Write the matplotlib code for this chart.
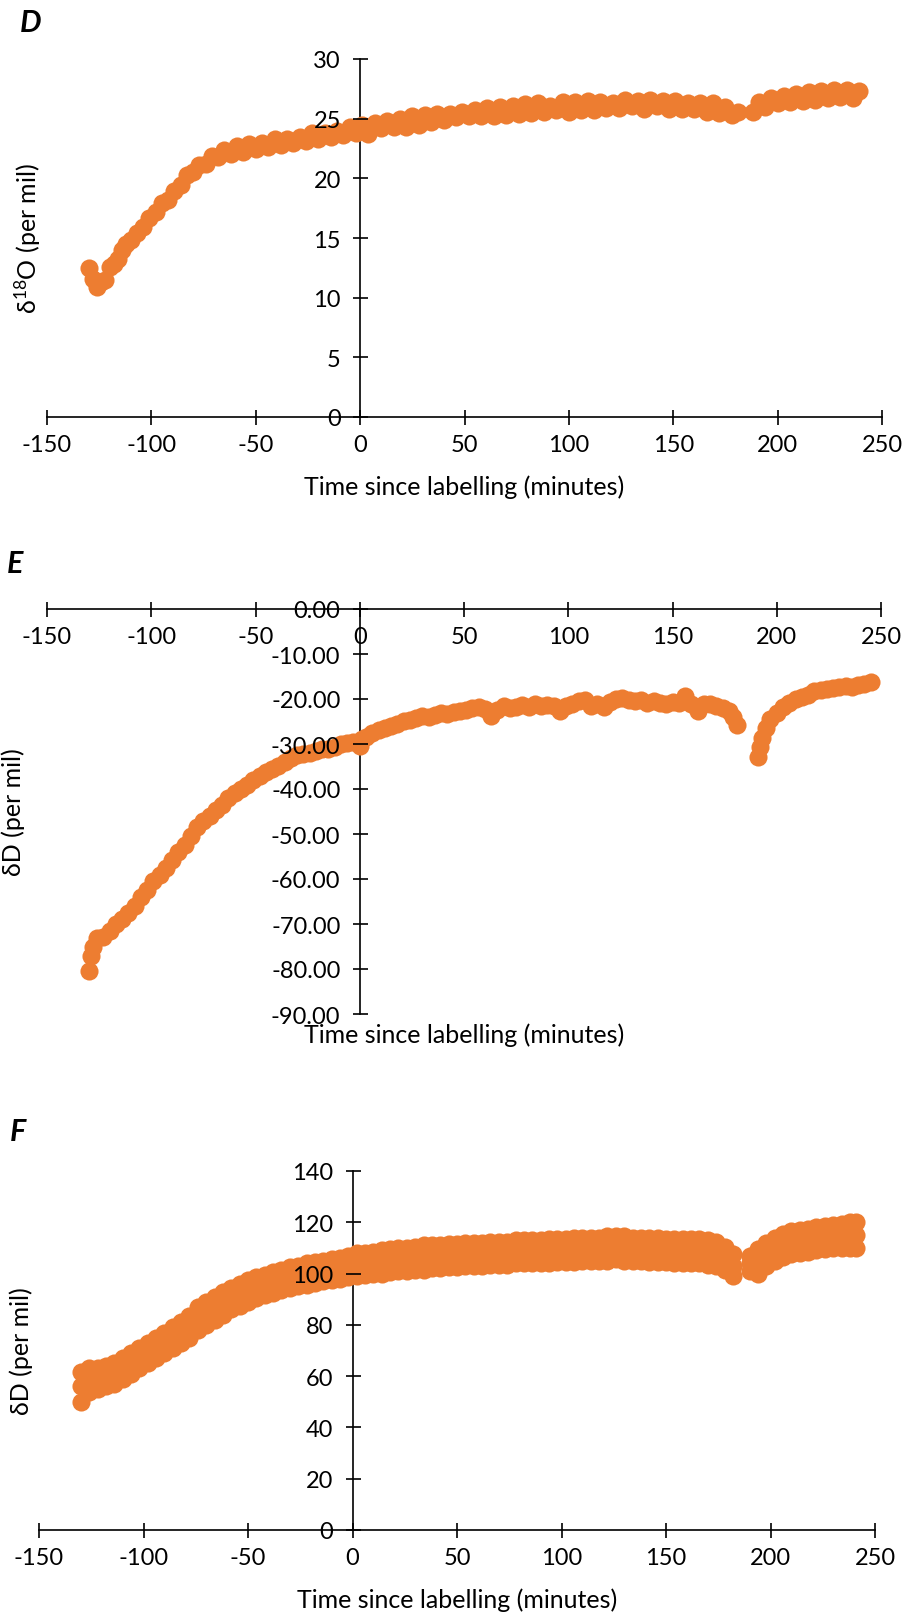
import matplotlib
matplotlib.use("Agg")
import matplotlib.pyplot as plt

plt.rcParams['font.family'] = ['Lato', 'DejaVu Sans']
plt.rcParams['axes.unicode_minus'] = False
plt.rcParams['mathtext.fontset'] = 'custom'
plt.rcParams['mathtext.rm'] = 'Lato'
plt.rcParams['mathtext.it'] = 'Lato:italic'
plt.rcParams['mathtext.bf'] = 'Lato:bold'

ORANGE = '#ED7D31'

# ---------------- Panel D : delta 18O ----------------
D_time = [-130, -128, -126, -124, -122, -120, -118, -116, -114, -112, -110, -107, -104, -101,
          -98, -95, -92, -89, -86, -83, -80, -77, -74, -71, -68, -65, -62, -59, -56, -53,
          -50, -47, -44, -41, -38, -35, -32, -29, -26, -23, -20, -17, -14, -11, -8, -5, -2,
          1, 4, 7, 10, 13, 16, 19, 22, 25, 28, 31, 34, 37, 40, 43, 46, 49, 52, 55, 58, 61,
          64, 67, 70, 73, 76, 79, 82, 85, 88, 91, 94, 97, 100, 103, 106, 109, 112, 115, 118,
          121, 124, 127, 130, 133, 136, 139, 142, 145, 148, 151, 154, 157, 160, 163, 166,
          169, 172, 175, 178, 181,
          188, 191, 194, 197, 200, 203, 206, 209, 212, 215, 218, 221, 224, 227, 230, 233,
          236, 239]
D_value = [12.5, 11.6, 10.9, 11.3, 11.5, 12.6, 12.8, 13.2, 14.0, 14.5, 14.8,
           15.4, 15.9, 16.7, 17.2, 17.9, 18.2, 18.9, 19.4, 20.3, 20.5, 21.1, 21.2, 21.9, 21.8,
           22.4, 22.0, 22.7, 22.2, 22.9, 22.5, 23.0, 22.6, 23.3, 22.8, 23.3, 23.0, 23.5, 23.1,
           23.8, 23.3, 23.8, 23.5, 24.0, 23.6, 24.3, 23.8,
           24.5, 23.7, 24.6, 24.2, 24.8, 24.3, 25.0, 24.3, 25.2, 24.5, 25.3, 24.7, 25.4, 24.9,
           25.4, 25.1, 25.6, 25.2, 25.7, 25.2, 25.9, 25.2, 26.0, 25.3, 26.1, 25.4, 26.2, 25.5,
           26.3, 25.6, 26.1, 25.7, 26.4, 25.6, 26.4, 25.7, 26.5, 25.7, 26.4, 25.9, 26.3, 25.9,
           26.6, 26.1, 26.5, 25.8, 26.6, 26.1, 26.5, 25.8, 26.5, 25.8, 26.3, 25.8, 26.3, 25.6,
           26.3, 25.5, 26.0, 25.3, 25.6,
           25.6, 26.4, 26.0, 26.7, 26.3, 26.9, 26.4, 27.1, 26.5, 27.2, 26.6, 27.3, 26.7, 27.4,
           26.8, 27.4, 26.7, 27.3]

# ---------------- Panel E : delta D ----------------
E_time = [-130, -129, -128, -126, -123, -120, -117, -114, -111, -108, -105, -102, -99, -96,
          -93, -90, -87, -84, -81, -78, -75, -72, -69, -66, -63, -60, -57, -54, -51, -48,
          -45, -42, -39, -36, -33, -30, -27, -24, -21, -18, -15, -12, -9, -6, -3, 0, 1, 3, 6,
          9, 12, 15, 18, 21, 24, 27, 30, 33, 36, 39, 42, 45, 48, 51, 54, 57, 60, 63, 66, 69,
          72, 75, 78, 81, 84, 87, 90, 93, 96, 99, 102, 105, 108, 111, 114, 117, 120, 123,
          126, 129, 132, 135, 138, 141, 144, 147, 150, 153, 156, 159, 162, 165, 168, 171,
          174, 177, 179, 181,
          191, 192, 193, 195, 197, 200, 203, 206, 209, 212, 215, 218, 221, 224, 227, 230,
          233, 236, 239, 242, 245]
E_value = [-80.5, -77.0, -75.0, -73.0, -72.8, -71.5, -70.0, -68.8, -67.5, -66.0, -64.0, -62.5,
           -60.5, -59.0, -57.5, -55.8, -54.0, -52.5, -50.5, -48.5, -47.2, -46.0, -44.7, -43.5,
           -42.0, -40.8, -40.0, -39.0, -38.0, -37.2, -36.3, -35.5, -34.8, -34.0, -33.2, -32.5,
           -32.3, -32.0, -31.5, -31.2, -31.0, -30.6, -30.0, -29.8, -29.5, -30.5, -28.9, -28.5,
           -27.5, -26.8, -26.5, -26.0, -25.5, -24.8, -24.6, -24.2, -23.8, -23.9, -23.5, -23.2,
           -23.3, -22.9, -22.7, -22.4, -22.0, -21.8, -22.3, -23.8, -22.5, -21.6, -22.0, -21.7,
           -21.4, -21.7, -21.2, -21.6, -21.3, -21.5, -22.6, -21.6, -21.0, -20.5, -20.2, -21.5,
           -21.0, -21.8, -20.6, -20.0, -19.8, -20.2, -20.5, -20.3, -20.8, -20.4, -20.8, -21.0,
           -20.6, -20.8, -19.3, -21.0, -22.6, -21.0, -21.0, -21.5, -22.0, -22.6, -24.0, -25.8,
           -32.8, -30.6, -28.6, -26.5, -24.5, -23.0, -21.8, -20.8, -20.0, -19.6, -19.0, -18.2,
           -18.0, -17.8, -17.5, -17.3, -17.2, -17.3, -16.9, -16.7, -16.2]

# ---------------- Panel F : delta D (band) ----------------
F_time = [-130, -126, -122, -118, -114, -110, -106, -102, -98, -94, -90, -86, -82, -78, -74,
          -70, -66, -62, -58, -54, -50, -46, -42, -38, -34, -30, -26, -22, -18, -14, -10, -6,
          -2, 2, 6, 10, 14, 18, 22, 26, 30, 34, 38, 42, 46, 50, 54, 58, 62, 66, 70, 74, 78,
          82, 86, 90, 94, 98, 102, 106, 110, 114, 118, 122, 126, 130, 134, 138, 142, 146,
          150, 154, 158, 162, 166, 170, 174, 178, 182,
          190, 194, 198, 202, 206, 210, 214, 218, 222, 226, 230, 234, 238, 241]
F_low = [50, 54, 55, 56, 57, 59, 61, 63, 65, 67, 69, 71, 73, 75, 78, 80, 82, 84, 86, 87.5,
         89, 90.5, 91.5, 92.5, 93.5, 94.5, 95, 95.5, 96.5, 97, 97.5, 98, 98.5, 99, 99.5, 100,
         100, 100.5, 101, 101, 101.5, 101.5, 102, 102, 102.5, 102.5, 103, 103, 103, 103.5,
         103.5, 103.5, 104, 104, 104, 104, 104, 104.5, 104.5, 104.5, 105, 105, 105, 105,
         105.5, 105, 105, 105, 104.5, 104.5, 104.5, 104, 104, 104, 104, 103.5, 103, 101.5, 99,
         101, 100, 103, 105, 106.5, 107.5, 108, 108.5, 109, 109.5, 110, 110, 110, 110]
F_mid = [56, 58, 59, 60, 61.5, 63, 65, 67, 69, 71, 73, 75, 77, 79.5, 82, 84, 86, 88, 90, 91.5,
         93, 94, 95, 96, 97, 98, 98.5, 99.5, 100, 100.5, 101, 101.5, 102, 103, 103, 103.5,
         104, 104.5, 105, 105, 105.5, 105.5, 106, 106, 106.5, 106.5, 107, 107, 107, 107.5,
         107.5, 107.5, 108, 108, 108, 108, 108, 108.5, 108.5, 108.5, 109, 109, 109, 109,
         109.5, 109, 109, 109, 108.5, 108.5, 108.5, 108, 108, 108, 108, 107.5, 107, 105.5, 103,
         104, 104, 107, 109, 110.5, 111.5, 112, 112.5, 113, 113.5, 114, 114.5, 114.5, 115]
F_high = [61.5, 63, 63, 64, 65, 67, 69, 71, 73, 75, 77, 79, 81, 83.5,
          87, 89, 91, 93, 94.5, 96, 97.5, 98.5, 99.5, 100.5, 101.5, 102.5, 103, 104, 104.5,
          105, 105.5, 106, 107, 108, 108, 108.5, 109, 109.5, 110, 110, 110.5, 111, 111, 111,
          111.5, 111.5, 112, 112, 112, 112.5, 112.5, 112.5, 113, 113, 113, 113, 113.5, 113.5,
          113.5, 114, 114, 114, 114, 114.5, 114.5, 114.5, 114, 114, 114, 114, 113.5, 113.5,
          113.5, 113.5, 113.5, 113, 112.5, 110.5, 107.5,
          107, 109.5, 112, 114, 115.5, 116.5, 117, 117.5, 118, 118.5, 119, 119.5, 120, 120]

X_TICKS = [-150, -100, -50, 0, 50, 100, 150, 200, 250]
XLABEL = 'Time since labelling (minutes)'

W, H = 905, 1615
fig = plt.figure(figsize=(W / 100, H / 100), dpi=100)

MS = 170
TICK_FS = 17
LABEL_FS = 18


def make_axes(x0, x1, ytop, ybot):
    return fig.add_axes([x0 / W, 1 - ybot / H, (x1 - x0) / W, (ybot - ytop) / H])


def style(ax, ylim, yticks, yfmt, xlab_y, ylab_x, ylabel):
    ax.set_xlim(-150, 250)
    ax.set_ylim(*ylim)
    ax.set_xticks(X_TICKS)
    ax.set_yticks(yticks)
    ax.set_yticklabels([yfmt.format(v) for v in yticks])
    ax.set_xticklabels([str(v) for v in X_TICKS])
    for s in ['top', 'right']:
        ax.spines[s].set_visible(False)
    ax.spines['left'].set_position(('data', 0))
    ax.spines['bottom'].set_position(('data', 0))
    for s in ['left', 'bottom']:
        ax.spines[s].set_linewidth(1.2)
        ax.spines[s].set_zorder(1.5)
    ax.tick_params(axis='both', direction='inout', length=10.8, width=1.2,
                   labelsize=TICK_FS, colors='black')
    ax.tick_params(axis='x', pad=6.5)
    ax.tick_params(axis='y', pad=8.5)
    ax.xaxis.set_zorder(2.5)
    ax.yaxis.set_zorder(2.5)
    ax.set_xlabel(XLABEL, fontsize=LABEL_FS, va='center')
    ax.xaxis.set_label_coords(0.5, xlab_y)
    ax.set_ylabel(ylabel, fontsize=LABEL_FS, va='center')
    ax.yaxis.set_label_coords(ylab_x, 0.5)
    ax.patch.set_visible(False)


# Panel D
axD = make_axes(47, 882, 60, 418)
axD.scatter(D_time, D_value, s=MS, color=ORANGE, linewidths=0, zorder=2)
style(axD, (0, 30), [0, 5, 10, 15, 20, 25, 30], '{:g}', -0.193, -0.0228,
      r'δ$^{18}$O (per mil)')

# Panel E
axE = make_axes(47, 881, 610, 1015)
axE.scatter(E_time, E_value, s=MS, color=ORANGE, linewidths=0, zorder=2)
style(axE, (-90, 0), [0, -10, -20, -30, -40, -50, -60, -70, -80, -90], '{:.2f}',
      -0.049, -0.041, 'δD (per mil)')

# Panel F
axF = make_axes(39, 875, 1172, 1531)
for series in (F_low, F_mid, F_high):
    axF.scatter(F_time, series, s=MS, color=ORANGE, linewidths=0, zorder=2)
style(axF, (0, 140), [0, 20, 40, 60, 80, 100, 120, 140], '{:g}', -0.192, -0.0215,
      'δD (per mil)')

# Panel letters
for letter, (px, py) in zip(['D', 'E', 'F'], [(20, 9), (7, 550), (10, 1118)]):
    fig.text(px / W, 1 - py / H, letter, fontsize=22, fontweight='bold', fontstyle='italic',
             ha='left', va='top')

fig.savefig('out.png', dpi=100)
